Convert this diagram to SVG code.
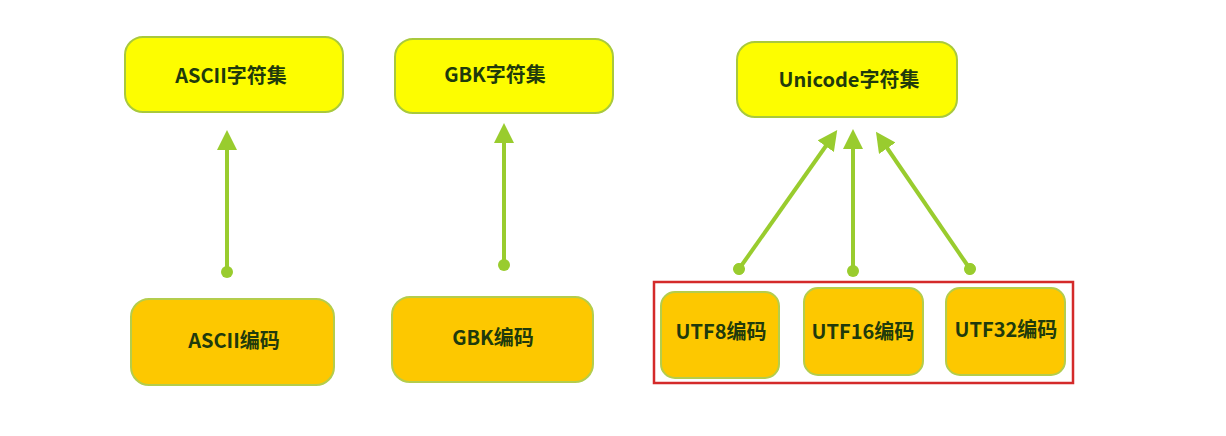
<svg xmlns="http://www.w3.org/2000/svg" width="1226" height="436" viewBox="0 0 1226 436">
  <style>
    .set { fill: #fdfd00; stroke: #a9c93c; stroke-width: 2; }
    .enc { fill: #fdc800; stroke: #b4cd4c; stroke-width: 2; }
    .lbl { font-family: "Noto Sans CJK SC", "Noto Sans", sans-serif; font-weight: bold; font-size: 20px; fill: #203a0c; text-anchor: middle; dominant-baseline: central; }
    .link { stroke: #99cc2e; stroke-width: 4; fill: none; marker-end: url(#head); marker-start: url(#dot); }
  </style>
  <defs>
    <marker id="head" viewBox="0 0 10 10" refX="2" refY="5" markerWidth="5" markerHeight="5" orient="auto" markerUnits="strokeWidth">
      <path d="M0,0 L10,5 L0,10 Z" fill="#99cc2e"/>
    </marker>
    <marker id="dot" viewBox="0 0 10 10" refX="5" refY="5" markerWidth="3" markerHeight="3" orient="auto" markerUnits="strokeWidth">
      <circle cx="5" cy="5" r="5" fill="#99cc2e"/>
    </marker>
  </defs>
  <rect width="1226" height="436" fill="#ffffff"/>

  <g id="connectors">
    <line class="link" x1="227" y1="272" x2="227" y2="146"/>
    <line class="link" x1="504" y1="265" x2="504" y2="139"/>
    <line class="link" x1="739" y1="269" x2="828" y2="143"/>
    <line class="link" x1="853" y1="271" x2="853" y2="145"/>
    <line class="link" x1="970" y1="269" x2="885" y2="145"/>
  </g>

  <g id="ascii-set">
    <rect class="set" x="125" y="37" width="218" height="75" rx="18"/>
    <text class="lbl" x="231" y="74">ASCII字符集</text>
  </g>
  <g id="gbk-set">
    <rect class="set" x="395" y="39" width="218" height="74" rx="18"/>
    <text class="lbl" x="495" y="73">GBK字符集</text>
  </g>
  <g id="unicode-set">
    <rect class="set" x="737" y="42" width="220" height="75" rx="18"/>
    <text class="lbl" x="849" y="78">Unicode字符集</text>
  </g>

  <g id="ascii-enc">
    <rect class="enc" x="131" y="299" width="203" height="86" rx="18"/>
    <text class="lbl" x="234" y="339">ASCII编码</text>
  </g>
  <g id="gbk-enc">
    <rect class="enc" x="392" y="297" width="201" height="85" rx="18"/>
    <text class="lbl" x="493" y="336">GBK编码</text>
  </g>

  <g id="utf-group">
    <rect x="654" y="282" width="419" height="101" fill="none" stroke="#d42a2a" stroke-width="2.5"/>
  </g>
  <g id="utf8-enc">
    <rect class="enc" x="661" y="292" width="118" height="86" rx="14"/>
    <text class="lbl" x="721" y="330">UTF8编码</text>
  </g>
  <g id="utf16-enc">
    <rect class="enc" x="804" y="288" width="119" height="87" rx="14"/>
    <text class="lbl" x="863" y="330">UTF16编码</text>
  </g>
  <g id="utf32-enc">
    <rect class="enc" x="946" y="288" width="119" height="87" rx="14"/>
    <text class="lbl" x="1006" y="328">UTF32编码</text>
  </g>
</svg>
